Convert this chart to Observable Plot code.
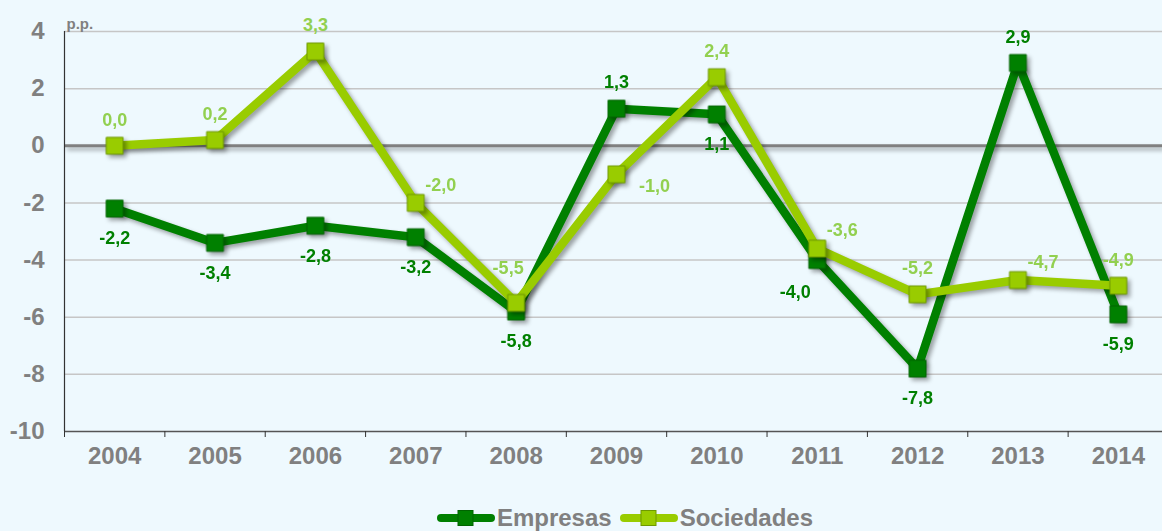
<!DOCTYPE html>
<html>
<head>
<meta charset="utf-8">
<script src="https://cdn.jsdelivr.net/npm/d3@7"></script>
<script src="https://cdn.jsdelivr.net/npm/@observablehq/plot@0.6"></script>
<style>
  html, body { margin: 0; padding: 0; background: #eef9fe; overflow: hidden; }
  body { width: 1162px; height: 531px; font-family: "Liberation Sans", Arial, sans-serif; }
  #chart svg { display: block; background: #eef9fe; }
  .legend { height: 26px; display: flex; align-items: center; justify-content: center; padding-left: 88px;
            font: bold 24px "Liberation Sans", Arial, sans-serif; color: #808080; }
  .legend .item { display: flex; align-items: center; margin: 0 4px; }
  .legend svg { margin-right: 2px; }
  .shadow { filter: drop-shadow(3px 3px 2px rgba(0,0,0,0.35)); }
</style>
</head>
<body>
<div id="chart"></div>
<div class="legend" id="legend"></div>
<script>
// ---- data ----
const years = [2004, 2005, 2006, 2007, 2008, 2009, 2010, 2011, 2012, 2013, 2014];
const empresas = [-2.2, -3.4, -2.8, -3.2, -5.8, 1.3, 1.1, -4.0, -7.8, 2.9, -5.9];
const sociedades = [0.0, 0.2, 3.3, -2.0, -5.5, -1.0, 2.4, -3.6, -5.2, -4.7, -4.9];
const yTicks = [-10, -8, -6, -4, -2, 0, 2, 4];
const seriesNames = ["Empresas", "Sociedades"];
const unitLabel = "p.p.";
// label placement codes (per point)
const empPlace = ["below", "below", "below", "below", "below", "above", "below", "belowLeft", "below", "above", "below"];
const socPlace = ["above", "above", "above", "aboveRight", "aboveHigh", "right", "above", "aboveRight", "above", "aboveRight", "above"];

// ---- styling ----
const darkGreen = "#008000", lightGreen = "#99cc00";
const darkLabel = "#008000", lightLabel = "#92d050";
const offsets = {
  below: {dx: 0, dy: 30},
  above: {dx: 0, dy: -26},
  aboveHigh: {dx: -8, dy: -35},
  aboveRight: {dx: 25, dy: -18},
  right: {dx: 38, dy: 12},
  belowLeft: {dx: -22, dy: 32}
};
const fmt = v => d3.format(".1f")(v).replace(".", ",").replace("\u2212", "-");

const emp = years.map((year, i) => ({year, value: empresas[i], place: empPlace[i]}));
const soc = years.map((year, i) => ({year, value: sociedades[i], place: socPlace[i]}));
const bounds = [...years.map(y => y - 0.5), years[years.length - 1] + 0.5];

function labelMarks(data, color) {
  return Object.entries(offsets).map(([k, o]) =>
    Plot.text(data.filter(d => d.place === k), {
      x: "year", y: "value", text: d => fmt(d.value),
      dx: o.dx, dy: o.dy, fill: color, fontSize: 18, fontWeight: "bold"
    }));
}

const chart = Plot.plot({
  width: 1162,
  height: 505,
  marginTop: 31,
  marginBottom: 74,
  marginLeft: 64,
  marginRight: 0,
  style: {fontFamily: "Liberation Sans, Arial, sans-serif", background: "#eef9fe", overflow: "visible"},
  x: {type: "linear", domain: [bounds[0], bounds[bounds.length - 1]], range: [64, 1168]},
  y: {domain: [-10, 4], range: [431, 31]},
  marks: [
    Plot.ruleY(yTicks.filter(t => t !== 0 && t !== -10), {stroke: "#c6c6c6", strokeWidth: 1.5}),
    Plot.ruleY([0], {stroke: "#808080", strokeWidth: 3, className: "shadow"}),
    Plot.ruleY([-10], {stroke: "#555", strokeWidth: 1.5}),
    Plot.ruleX([bounds[0]], {y1: -10, y2: 4, stroke: "#333", strokeWidth: 1.2}),
    Plot.axisY({ticks: yTicks, tickSize: 0, tickPadding: 20, tickFormat: d => String(d), fontSize: 24, fontWeight: "bold", fill: "#808080", label: null}),
    Plot.axisX({ticks: years, tickSize: 0, tickPadding: 15, tickFormat: d => String(d), fontSize: 24, fontWeight: "bold", fill: "#808080", label: null}),
    Plot.axisX({ticks: bounds, tickSize: 6, tickFormat: () => "", stroke: "#333", label: null}),
    Plot.text([unitLabel], {frameAnchor: "top-left", dx: 2, dy: -13, fill: "#808080", fontSize: 15, fontWeight: "bold", textAnchor: "start"}),
    Plot.line(emp, {x: "year", y: "value", stroke: darkGreen, strokeWidth: 8.5, className: "shadow"}),
    Plot.dot(emp, {x: "year", y: "value", symbol: "square", r: 9.5, fill: darkGreen, stroke: "#006400", strokeWidth: 1, className: "shadow"}),
    Plot.line(soc, {x: "year", y: "value", stroke: lightGreen, strokeWidth: 8.5, className: "shadow"}),
    Plot.dot(soc, {x: "year", y: "value", symbol: "square", r: 9.5, fill: lightGreen, stroke: "#6e9900", strokeWidth: 1, className: "shadow"}),
    ...labelMarks(emp, darkLabel),
    ...labelMarks(soc, lightLabel)
  ]
});
document.getElementById("chart").appendChild(chart);

// ---- legend ----
const legend = document.getElementById("legend");
[[seriesNames[0], darkGreen, "#006400"], [seriesNames[1], lightGreen, "#6e9900"]].forEach(([name, c, sc]) => {
  const item = document.createElement("div");
  item.className = "item";
  item.innerHTML = `<svg width="58" height="16"><line x1="4" y1="8" x2="54" y2="8" stroke="${c}" stroke-width="8" stroke-linecap="round"/><rect x="21" y="0.5" width="15" height="15" fill="${c}" stroke="${sc}" stroke-width="1"/></svg><span>${name}</span>`;
  legend.appendChild(item);
});
</script>
</body>
</html>
